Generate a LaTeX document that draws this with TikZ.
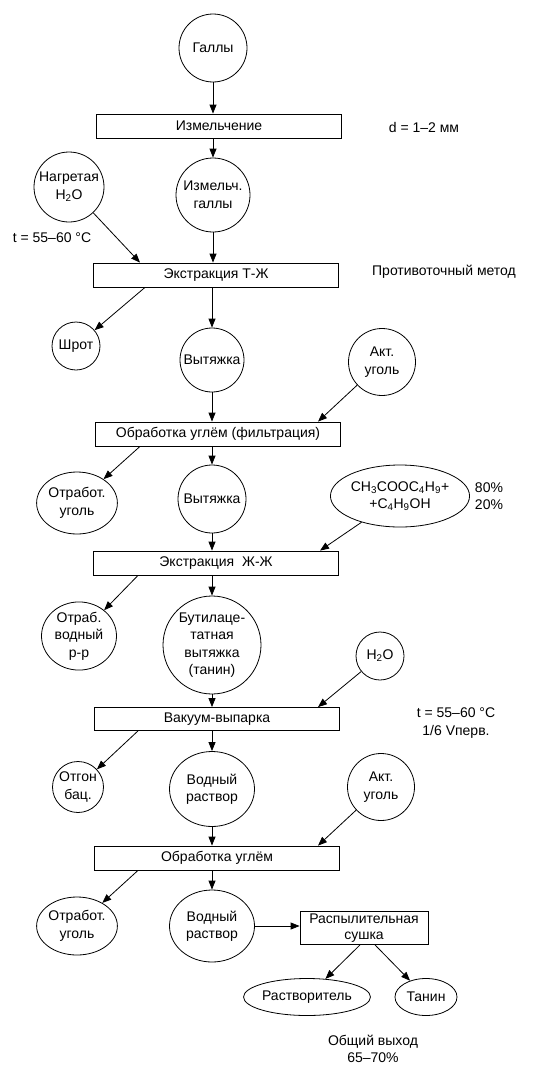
\documentclass[tikz,border=0pt]{standalone}
\usepackage{fontspec}
\setmainfont{Liberation Sans}
\usetikzlibrary{arrows.meta,shapes.geometric}
\tikzset{
  proc/.style={draw,rectangle,minimum width=245pt,minimum height=24pt,inner sep=1pt},
  flow/.style={draw,circle,align=center,inner sep=0pt},
  oval/.style={draw,ellipse,align=center,inner sep=0pt},
  note/.style={align=center,inner sep=0pt},
  feed/.style={-{Triangle[length=9pt,width=7pt]},line width=0.8pt}
}
\begin{document}
\begin{tikzpicture}[x=1pt,y=-1pt,line width=0.8pt,
  every node/.style={font=\fontsize{14}{17.5}\selectfont}]
  \useasboundingbox (0,0) rectangle (554,1068);

  \node[flow,minimum size=68pt]  (galls)  at (213,48)  {Галлы};
  \node[proc]                    (grind)  at (219,126) {Измельчение};
  \node[note]                    (dsize)  at (424,127) {d = 1–2 мм};
  \node[flow,minimum size=70pt]  (water)  at (69,187)  {Нагретая\\H\textsubscript{2}O};
  \node[flow,minimum size=74pt]  (ggalls) at (213,195) {Измельч.\\галлы};
  \node[note]                    (temp)   at (52,238)  {t = 55–60 °C};
  \node[proc]                    (ext1)   at (216,275) {Экстракция Т-Ж};
  \node[note]                    (method) at (444,272) {Противоточный метод};
  \node[flow,minimum size=48pt]  (shrot)  at (76,346)  {Шрот};
  \node[flow,minimum size=64pt]  (extr1)  at (212,360) {Вытяжка};
  \node[flow,minimum size=67pt]  (coal1)  at (382,362) {Акт.\\уголь};
  \node[proc]                    (filt)   at (218,434) {Обработка углём (фильтрация)};
  \node[oval,minimum width=73pt,minimum height=62pt] (spent1) at (77,503) {Отработ.\\уголь};
  \node[flow,minimum size=68pt]  (extr2)  at (212,499) {Вытяжка};
  \node[oval,minimum width=117pt,minimum height=62pt] (solv) at (400,496)
    {CH\textsubscript{3}COOC\textsubscript{4}H\textsubscript{9}+\\+C\textsubscript{4}H\textsubscript{9}OH};
  \node[note]                    (ratio)  at (489,496) {80\%\\20\%};
  \node[proc]                    (ext2)   at (216,563) {Экстракция\ \ Ж-Ж};
  \node[oval,minimum width=75pt,minimum height=68pt] (aqsp) at (79,636) {Отраб.\\водный\\р-р};
  \node[flow,minimum size=98pt]  (butyl)  at (212,645) {Бутилаце-\\татная\\вытяжка\\(танин)};
  \node[flow,minimum size=48pt]  (water2) at (380,656) {H\textsubscript{2}O};
  \node[proc,minimum height=23pt] (evap)  at (217,719) {Вакуум-выпарка};
  \node[note]                    (cond)   at (456,723) {t = 55–60 °C\\1/6 Vперв.};
  \node[flow,minimum size=51pt]  (dist)   at (78,787)  {Отгон\\бац.};
  \node[oval,minimum width=85pt,minimum height=75pt] (aq1) at (212,789) {Водный\\раствор};
  \node[flow,minimum size=67pt]  (coal2)  at (381,787) {Акт.\\уголь};
  \node[proc]                    (treat)  at (217,858) {Обработка углём};
  \node[oval,minimum width=73pt,minimum height=58pt] (spent2) at (77,926) {Отработ.\\уголь};
  \node[oval,minimum width=85pt,minimum height=72pt] (aq2) at (212,926) {Водный\\раствор};
  \node[proc,minimum width=128pt,minimum height=33pt,align=center,
        font=\fontsize{14}{16}\selectfont] (spray) at (364,928) {Распылительная\\сушка};
  \node[oval,minimum width=115pt,minimum height=37pt] (solvent) at (307,997) {Растворитель};
  \node[oval,minimum width=62pt,minimum height=37pt]  (tannin)  at (426,997) {Танин};
  \node[note]                    (yield)  at (373,1049) {Общий выход\\65–70\%};

  \draw[feed] (galls) -- (galls |- grind.north);
  \draw[feed] (ggalls |- grind.south) -- (ggalls);
  \draw[feed] (water) -- ([xshift=-76pt]ext1.north);
  \draw[feed] (ggalls) -- (ggalls |- ext1.north);
  \draw[feed] ([xshift=-71pt]ext1.south) -- (shrot);
  \draw[feed] (extr1 |- ext1.south) -- (extr1);
  \draw[feed] (extr1) -- (extr1 |- filt.north);
  \draw[feed] (coal1) -- ([xshift=100pt]filt.north);
  \draw[feed] ([xshift=-78pt]filt.south) -- (spent1);
  \draw[feed] (extr2 |- filt.south) -- (extr2);
  \draw[feed] (extr2) -- (extr2 |- ext2.north);
  \draw[feed] (solv) -- ([xshift=104pt]ext2.north);
  \draw[feed] ([xshift=-78pt]ext2.south) -- (aqsp);
  \draw[feed] (butyl |- ext2.south) -- (butyl);
  \draw[feed] (butyl) -- (butyl |- evap.north);
  \draw[feed] (water2) -- ([xshift=101pt]evap.north);
  \draw[feed] ([xshift=-79pt]evap.south) -- (dist);
  \draw[feed] (aq1 |- evap.south) -- (aq1);
  \draw[feed] (aq1) -- (aq1 |- treat.north);
  \draw[feed] (coal2) -- ([xshift=101pt]treat.north);
  \draw[feed] ([xshift=-79pt]treat.south) -- (spent2);
  \draw[feed] (aq2 |- treat.south) -- (aq2);
  \draw[feed] (aq2) -- (aq2 -| spray.west);
  \draw[feed] ([xshift=-4pt]spray.south) -- (solvent);
  \draw[feed] ([xshift=11pt]spray.south) -- (tannin);
\end{tikzpicture}
\end{document}
